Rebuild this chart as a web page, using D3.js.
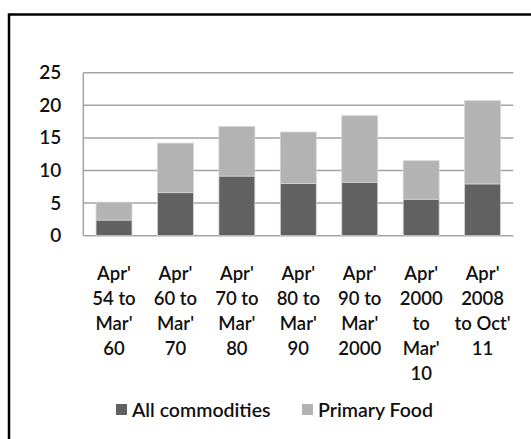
<!DOCTYPE html>
<html>
<head>
<meta charset="utf-8">
<script src="https://cdn.jsdelivr.net/npm/d3@7"></script>
<style>
  html, body { margin: 0; padding: 0; background: #fff; }
  svg text { font-family: Lato, "Open Sans", sans-serif; fill: #111; }
</style>
</head>
<body>
<svg id="chart" width="531" height="439"></svg>
<script>
// Periods (line breaks mark label wrapping)
const categories = [
  "Apr'\n54 to\nMar'\n60",
  "Apr'\n60 to\nMar'\n70",
  "Apr'\n70 to\nMar'\n80",
  "Apr'\n80 to\nMar'\n90",
  "Apr'\n90 to\nMar'\n2000",
  "Apr'\n2000\nto\nMar'\n10",
  "Apr'\n2008\nto Oct'\n11"
];
const allCommodities = [2.4, 6.6, 9.15, 8.0, 8.2, 5.6, 7.95];
const primaryFood    = [2.75, 7.6, 7.6, 7.9, 10.2, 5.9, 12.75];
const seriesNames = ["All commodities", "Primary Food"];
const seriesColors = ["#616161", "#b3b3b3"];
const yTicks = [0, 5, 10, 15, 20, 25];

const svg = d3.select("#chart");

// outer frame
svg.append("rect")
  .attr("x", 9).attr("y", 14.5)
  .attr("width", 560).attr("height", 460)
  .attr("fill", "none").attr("stroke", "#000").attr("stroke-width", 2.5);

const plot = { left: 83.3, right: 513.3, top: 72.7, bottom: 235.7 };

const x = d3.scaleBand()
  .domain(categories)
  .range([plot.left, plot.right])
  .paddingInner(0.415)
  .paddingOuter(0.2075);

const y = d3.scaleLinear().domain([0, 25]).range([plot.bottom, plot.top]);

// gridlines
svg.append("g")
  .selectAll("line")
  .data(yTicks)
  .join("line")
  .attr("x1", plot.left).attr("x2", plot.right)
  .attr("y1", d => y(d)).attr("y2", d => y(d))
  .attr("stroke", "#a3a3a3").attr("stroke-width", 1.5);

// vertical axis line
svg.append("line")
  .attr("x1", plot.left).attr("x2", plot.left)
  .attr("y1", plot.top).attr("y2", plot.bottom)
  .attr("stroke", "#a3a3a3").attr("stroke-width", 1.5);

// stacked bars
const table = categories.map((c, i) => ({ cat: c, a: allCommodities[i], b: primaryFood[i] }));
const stack = d3.stack().keys(["a", "b"])(table);

svg.append("g")
  .selectAll("g")
  .data(stack)
  .join("g")
  .attr("fill", (d, i) => seriesColors[i])
  .selectAll("rect")
  .data(d => d)
  .join("rect")
  .attr("x", d => x(d.data.cat))
  .attr("width", x.bandwidth())
  .attr("y", d => y(d[1]))
  .attr("height", d => y(d[0]) - y(d[1]))
  .attr("stroke", "#d4d4d4").attr("stroke-width", 0.8);

// y axis labels
const yAxis = svg.append("g")
  .attr("transform", `translate(${plot.left - 22},0)`)
  .call(d3.axisLeft(y).tickValues(yTicks).tickSize(0).tickPadding(0));
yAxis.select(".domain").remove();
yAxis.selectAll("text")
  .style("font-family", "Lato, sans-serif")
  .style("font-size", "19px")
  .style("font-weight", "600")
  .attr("fill", "#111");

// x axis labels, wrapped onto several lines
const xAxis = svg.append("g")
  .attr("transform", `translate(0,${plot.bottom})`)
  .call(d3.axisBottom(x).tickSize(0).tickFormat(""));
xAxis.select(".domain").remove();
xAxis.selectAll(".tick text").remove();
xAxis.selectAll(".tick")
  .append("text")
  .attr("text-anchor", "middle")
  .style("font-size", "18.5px")
  .style("font-weight", "600")
  .attr("fill", "#111")
  .each(function(d) {
    const lines = d.split("\n");
    d3.select(this).selectAll("tspan")
      .data(lines)
      .join("tspan")
      .attr("x", 0)
      .attr("y", (l, i) => 44 + i * 25)
      .text(l => l);
  });

// legend
const legend = svg.append("g").attr("transform", "translate(116,410)");
const legendX = [0, 186];
seriesNames.forEach((name, i) => {
  const g = legend.append("g").attr("transform", `translate(${legendX[i]},0)`);
  g.append("rect")
    .attr("x", 0).attr("y", -6).attr("width", 11).attr("height", 11)
    .attr("fill", seriesColors[i]);
  g.append("text")
    .attr("x", 16).attr("y", 6.5)
    .style("font-size", "19.5px")
    .style("font-weight", "600")
    .text(name);
});
</script>
</body>
</html>
